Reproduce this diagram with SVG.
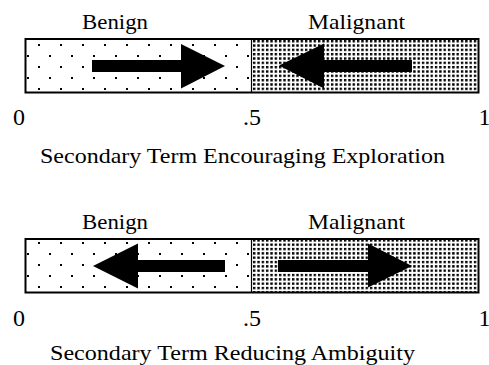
<svg xmlns="http://www.w3.org/2000/svg" width="489" height="365" viewBox="0 0 489 365">
<defs>
<pattern id="sparse" patternUnits="userSpaceOnUse" x="38" y="44" width="22" height="22">
<rect x="0" y="0" width="2" height="2" fill="#000"/>
<rect x="11" y="11" width="2" height="2" fill="#000"/>
</pattern>
<pattern id="dense" patternUnits="userSpaceOnUse" x="253" y="40" width="4.33" height="4.33">
<rect x="0" y="0" width="2.4" height="2.4" fill="#000"/>
</pattern>
</defs>
<style>
text { font-family: "Liberation Serif", "Times New Roman", serif; font-size: 22px; fill: #000; }
.mid { text-anchor: middle; }
.tick { font-size: 24px; }
.box { fill: none; stroke: #000; stroke-width: 2; }
.div { stroke: #000; stroke-width: 1.2; }
.arrow { fill: #000; stroke: none; }
</style>
<rect width="489" height="365" fill="#fff"/>

<g id="top-scale">
<rect x="25.5" y="39" width="226" height="53.5" fill="url(#sparse)"/>
<rect x="251.5" y="39" width="227" height="53.5" fill="url(#dense)"/>
<rect class="box" x="25.5" y="39" width="453" height="53.5"/>
<line class="div" x1="251.5" y1="39" x2="251.5" y2="92.5"/>
<text class="mid" x="115" y="29" textLength="66" lengthAdjust="spacingAndGlyphs">Benign</text>
<text class="mid" x="356.5" y="29" textLength="97" lengthAdjust="spacingAndGlyphs">Malignant</text>
<text class="mid tick" x="19" y="125">0</text>
<text class="mid tick" x="252" y="125">.5</text>
<text class="tick" x="478.5" y="125">1</text>
<text class="mid" x="242.5" y="163" textLength="405" lengthAdjust="spacingAndGlyphs">Secondary Term Encouraging Exploration</text>
</g>

<g id="bottom-scale">
<rect x="25.5" y="239" width="226" height="53.5" fill="url(#sparse)"/>
<rect x="251.5" y="239" width="227" height="53.5" fill="url(#dense)"/>
<rect class="box" x="25.5" y="239" width="453" height="53.5"/>
<line class="div" x1="251.5" y1="239" x2="251.5" y2="292.5"/>
<text class="mid" x="115" y="229" textLength="66" lengthAdjust="spacingAndGlyphs">Benign</text>
<text class="mid" x="356.5" y="229" textLength="97" lengthAdjust="spacingAndGlyphs">Malignant</text>
<text class="mid tick" x="19" y="325.5">0</text>
<text class="mid tick" x="252" y="325.5">.5</text>
<text class="tick" x="478.5" y="325.5">1</text>
<text class="mid" x="232.5" y="360" textLength="365" lengthAdjust="spacingAndGlyphs">Secondary Term Reducing Ambiguity</text>
</g>

<g id="arrows">
<polygon class="arrow" points="92,60 181,60 181,44 225,66 181,88.5 181,72 92,72"/>
<polygon class="arrow" points="412,60 324,60 324,43.5 279,65.5 324,88.5 324,72 412,72"/>
<polygon class="arrow" points="225,260 138,260 138,243.5 93,266 138,288.5 138,272 225,272"/>
<polygon class="arrow" points="278,260 368,260 368,243.5 412,266 368,287.5 368,272 278,272"/>
</g>
</svg>
